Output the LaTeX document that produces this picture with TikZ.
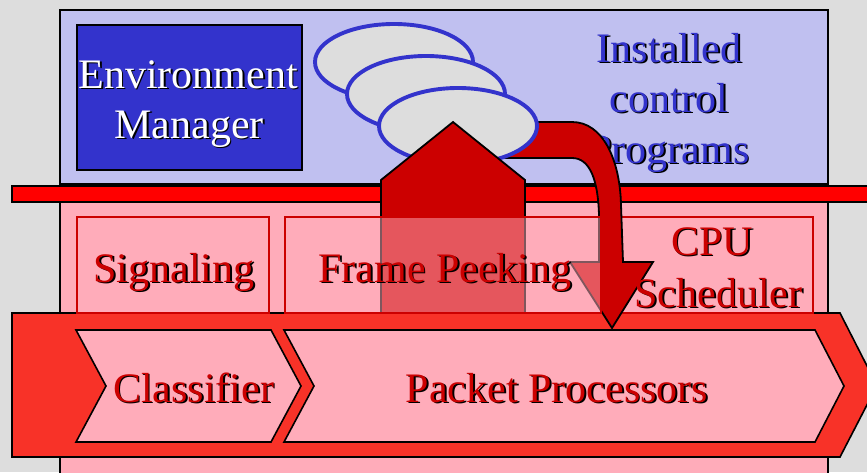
\documentclass[tikz,border=0pt]{standalone}
\usepackage{fontspec}
\setmainfont{Liberation Serif}
\definecolor{bggray}{RGB}{221,221,221}
\definecolor{lav}{RGB}{192,192,240}
\definecolor{pinkf}{RGB}{255,172,186}
\definecolor{envblue}{RGB}{51,51,204}
\definecolor{dkred}{RGB}{204,0,0}
\definecolor{barred}{RGB}{255,0,0}
\definecolor{chevred}{RGB}{248,50,40}
\newcommand\shd[1]{\rlap{\kern1.8pt\raisebox{-1.8pt}{\color{black}#1}}#1}
\begin{document}
\begin{tikzpicture}[x=1pt,y=-1pt,line join=miter,
  lbl/.style={inner sep=0pt,anchor=base,font=\fontsize{42}{50}\selectfont},
  redtxt/.style={lbl,text=dkred},
  bluetxt/.style={lbl,text=envblue},
  whitetxt/.style={lbl,text=white},
  outl/.style={draw=black,line width=1.6pt},
  subbox/.style={draw=dkred,line width=1.4pt,fill=pinkf},
  prog/.style={draw=envblue,line width=3.9pt,fill=bggray}]
\useasboundingbox (0,0) rectangle (867,472);
% background and panels
\fill[bggray] (0,0) rectangle (867,472);
\draw[outl,line width=1.4pt,fill=lav] (60,10) rectangle (828,184);
\draw[outl,line width=1.4pt,fill=pinkf] (60,202) rectangle (828,480);
\draw[outl,fill=barred] (12,186) rectangle (880,202);
% environment manager box
\draw[outl,fill=envblue] (77,25) rectangle (302,170);
\node[whitetxt] (em1) at (188,88) {\shd{Environment}};
\node[whitetxt] (em2) at (189,138) {\shd{Manager}};
% installed control programs text
\node[bluetxt] (ic1) at (669,62) {\shd{Installed}};
\node[bluetxt] (ic2) at (669,112) {\shd{control}};
\node[bluetxt] (ic3) at (669,163) {\shd{Programs}};
% big chevron band
\draw[outl,fill=chevred] (12,313) -- (840,313) -- (877,385.5) -- (840,457) -- (12,457) -- cycle;
\draw[outl,fill=pinkf] (76,330) -- (271,330) -- (301,386) -- (271,442) -- (76,442) -- (106,386) -- cycle;
\draw[outl,fill=pinkf] (284,330) -- (815,330) -- (844,386) -- (815,442) -- (284,442) -- (314,386) -- cycle;
\node[redtxt] (cl) at (193.5,402) {\shd{Classifier}};
\node[redtxt] (pp) at (557,402) {\shd{Packet Processors}};
% sub boxes
\draw[subbox] (77,217) rectangle (269,313);
\draw[subbox] (612,217) rectangle (813,313);
% curved arrow
\draw[outl,line width=1.8pt,fill=dkred] (470,122) -- (572,122)
  .. controls (603,122) and (620,160) .. (621,205) -- (623,262) -- (653,262)
  -- (612,328) -- (570,262) -- (599,262) -- (599,215)
  .. controls (598,180) and (590,158) .. (572,158) -- (470,158) -- cycle;
% program ellipses
\draw[prog] (394,62) ellipse [x radius=79,y radius=38];
\draw[prog] (426,94) ellipse [x radius=79,y radius=38];
\draw[prog] (458,126) ellipse [x radius=79,y radius=38];
% house arrow
\draw[outl,line width=1.8pt,fill=dkred] (381,313) -- (381,180) -- (453,122) -- (525,180) -- (525,313);
% frame peeking box (semi transparent)
\draw[draw=dkred,line width=1.4pt,fill=pinkf,fill opacity=0.5] (285,217) rectangle (601,313);
% texts of sub boxes
\node[redtxt] (sg) at (174,282) {\shd{Signaling}};
\node[redtxt] (fp) at (445,282) {\shd{Frame Peeking}};
\node[redtxt] (cpu1) at (712,255) {\shd{CPU}};
\node[redtxt] (cpu2) at (718.5,307) {\shd{Scheduler}};
\end{tikzpicture}
\end{document}
